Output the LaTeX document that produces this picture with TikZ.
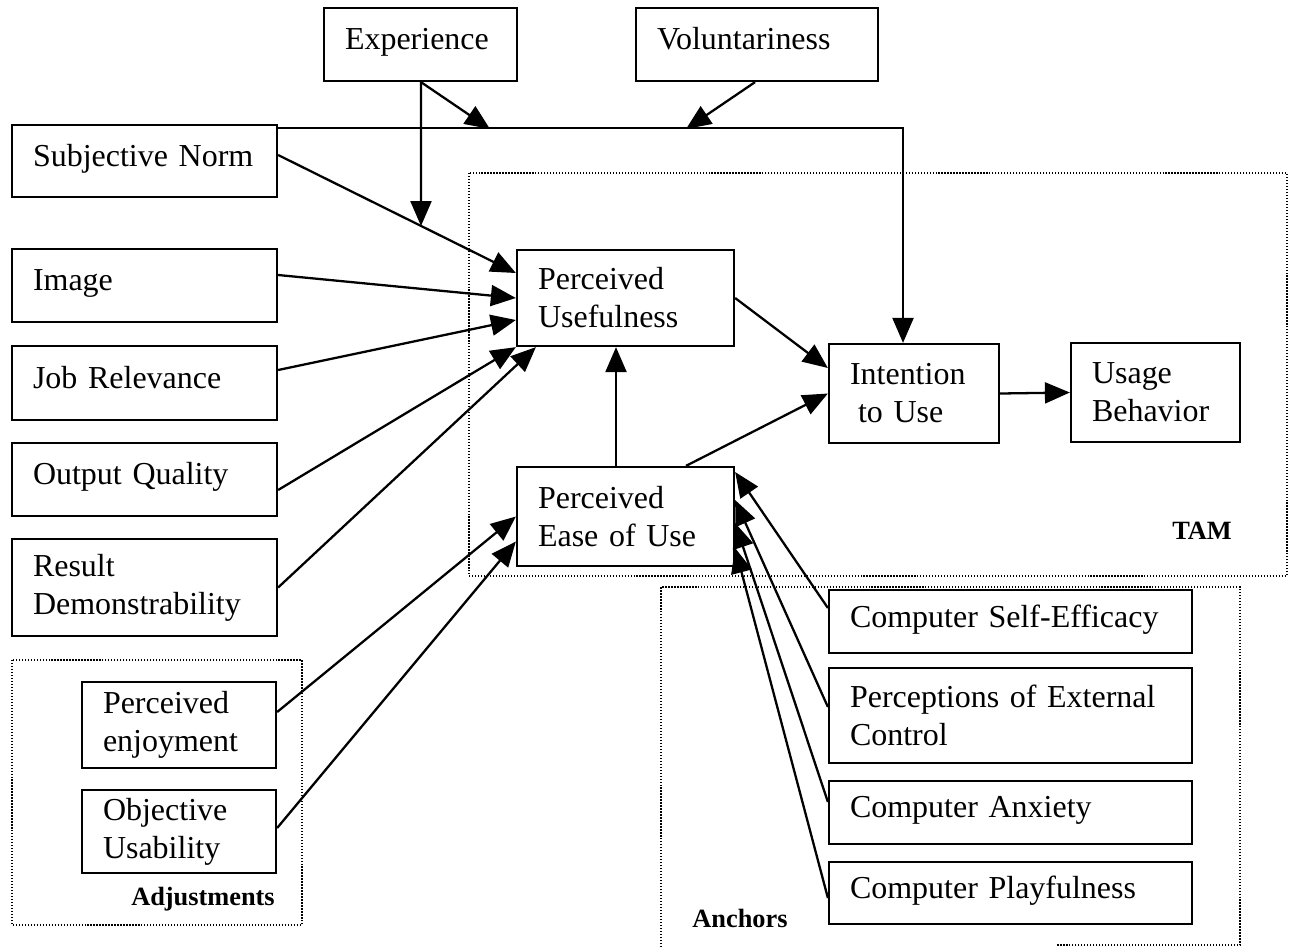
\documentclass[tikz,border=0pt]{standalone}
\usepackage{fontspec}
\setmainfont{Liberation Serif}
\usetikzlibrary{arrows.meta}

% strut that evens out single-line boxes with and without descenders
\newcommand\lstrut{\rule[-6.5pt]{0pt}{18pt}}

\begin{document}
\begin{tikzpicture}[x=0.02cm,y=-0.02cm,
  box/.style={draw, line width=1.3pt, inner xsep=0.42cm, inner ysep=0pt, align=left,
              font=\fontsize{18.2pt}{21.6pt}\selectfont, anchor=center},
  arr/.style={line width=1.3pt, -{Triangle[length=0.5cm,width=0.42cm]}},
  group/.style={line width=0.7pt, dash pattern=on 0.7pt off 1pt},
  grouplabel/.style={font=\fontsize{15pt}{18pt}\selectfont\bfseries}]

\useasboundingbox (0,0) rectangle (1293,947);

% dotted frames around groups
\draw[group] (469,173) rectangle (1287,576);
\draw[group] (12,660) rectangle (302,925);
\draw[group] (661,947) -- (661,587) -- (1240,587) -- (1240,945) -- (1057,945);

\node[grouplabel] (tamlbl) at (1202,531) {TAM};
\node[grouplabel] (adjlbl) at (203,899) {Adjustments};
\node[grouplabel] (anclbl) at (740,918) {Anchors};

% moderators
\node[box, text width=3.02cm, minimum height=1.46cm] (exp) at (420.5,44.5) {\lstrut Experience};
\node[box, text width=4.00cm, minimum height=1.46cm] (vol) at (757,44.5) {\lstrut Voluntariness};

% determinants of perceived usefulness
\node[box, text width=4.46cm, minimum height=1.44cm] (sn)  at (144.5,161)   {\lstrut Subjective Norm};
\node[box, text width=4.46cm, minimum height=1.46cm] (img) at (144.5,285.5) {\lstrut Image};
\node[box, text width=4.46cm, minimum height=1.48cm] (job) at (144.5,383)   {\lstrut Job Relevance};
\node[box, text width=4.46cm, minimum height=1.46cm] (out) at (144.5,479.5) {\lstrut Output Quality};
\node[box, text width=4.46cm, minimum height=1.94cm] (res) at (144.5,587.5) {Result\\Demonstrability};

% core TAM constructs
\node[box, text width=3.50cm, minimum height=1.92cm] (pu)   at (625.5,298)   {Perceived\\Usefulness};
\node[box, text width=3.50cm, minimum height=1.98cm] (peou) at (625.5,516.5) {Perceived\\Ease of Use};
\node[box, text width=2.56cm, minimum height=1.98cm] (itu)  at (914,393.5)   {Intention\\\hspace{0.25em}to Use};
\node[box, text width=2.54cm, minimum height=1.98cm] (ub)   at (1155.5,392.5) {Usage\\Behavior};

% adjustments
\node[box, text width=3.04cm, minimum height=1.72cm] (pe) at (179,725)   {Perceived\\enjoyment};
\node[box, text width=3.04cm, minimum height=1.66cm] (ou) at (179,831.5) {Objective\\Usability};

% anchors
\node[box, text width=6.42cm, minimum height=1.26cm] (cse) at (1010.5,621.5) {\lstrut Computer Self-Efficacy};
\node[box, text width=6.42cm, minimum height=1.90cm] (pec) at (1010.5,715.5) {Perceptions of External\\Control};
\node[box, text width=6.42cm, minimum height=1.26cm] (ca)  at (1010.5,812.5) {\lstrut Computer Anxiety};
\node[box, text width=6.42cm, minimum height=1.24cm] (cp)  at (1010.5,893)   {\lstrut Computer Playfulness};

% free ends of the moderating arrows
\coordinate (expmod) at (421,226);
\coordinate (exptop) at (490,129);
\coordinate (volmod) at (686,129);

% subjective norm to intention, moderated by experience and voluntariness
\draw[arr] ([yshift=-0.08cm]sn.north east) -| ([xshift=-0.22cm]itu.north);
\draw[arr] ([xshift=0.01cm]exp.south) -- (expmod);
\draw[arr] ([xshift=0.01cm]exp.south) -- (exptop);
\draw[arr] ([xshift=-0.04cm]vol.south) -- (volmod);

% into perceived usefulness
\draw[arr] ([yshift=0.12cm]sn.east)  -- ([yshift=0.5cm]pu.west);
\draw[arr] ([yshift=0.21cm]img.east) -- (pu.west);
\draw[arr] ([yshift=0.26cm]job.east) -- ([yshift=-0.44cm]pu.west);
\draw[arr] ([yshift=-0.21cm]out.east) -- (pu.south west);
\draw[arr] (res.east) -- ([xshift=0.4cm]pu.south west);
\draw[arr] ([xshift=-0.19cm]peou.north) -- ([xshift=-0.19cm]pu.south);

% core paths
\draw[arr] (pu.east) -- ([yshift=0.51cm]itu.west);
\draw[arr] ([xshift=1.21cm]peou.north) -- (itu.west);
\draw[arr] (itu.east) -- (ub.west);

% into perceived ease of use
\draw[arr] ([yshift=0.26cm]pe.east) -- (peou.west);
\draw[arr] ([yshift=0.07cm]ou.east) -- ([yshift=-0.5cm]peou.west);
\draw[arr] ([yshift=0.27cm]cse.west) -- ([yshift=0.89cm]peou.east);
\draw[arr] ([yshift=0.17cm]pec.west) -- ([yshift=0.33cm]peou.east);
\draw[arr] ([yshift=0.21cm]ca.west)  -- ([yshift=-0.13cm]peou.east);
\draw[arr] ([yshift=-0.1cm]cp.west)  -- ([yshift=-0.63cm]peou.east);

\end{tikzpicture}
\end{document}
